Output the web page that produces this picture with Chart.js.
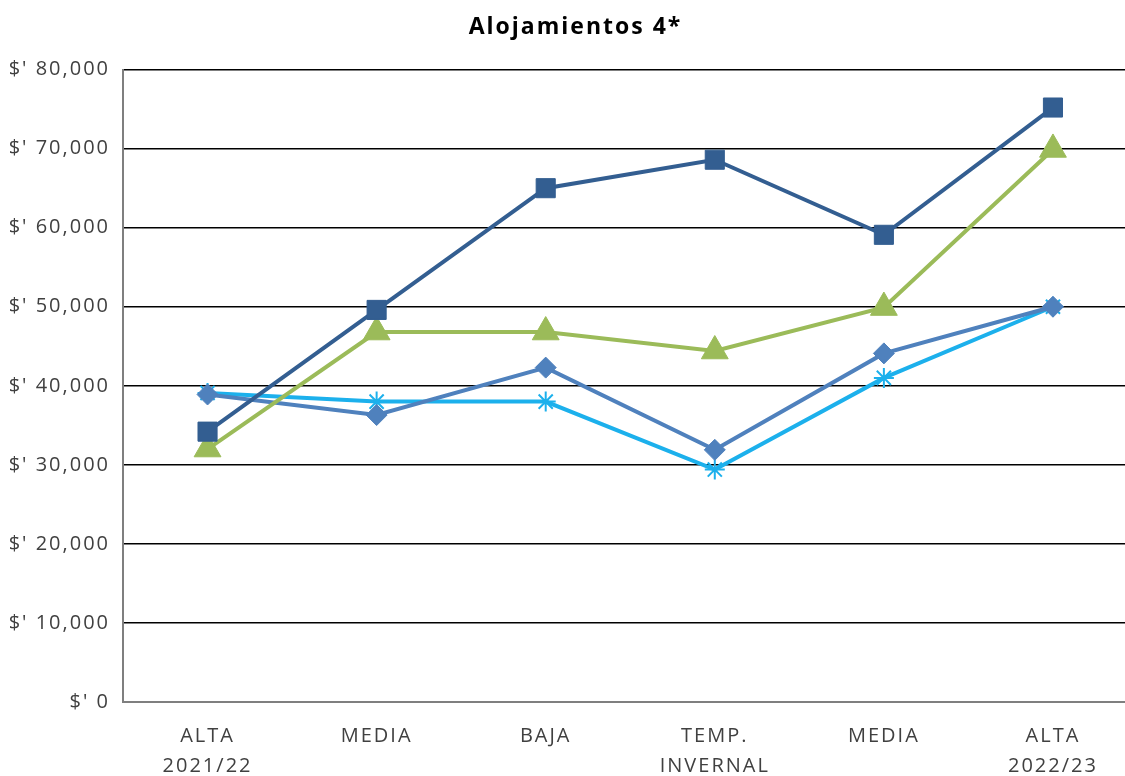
<!DOCTYPE html>
<html>
<head>
<meta charset="utf-8">
<script src="https://cdn.jsdelivr.net/npm/chart.js@4/dist/chart.umd.min.js"></script>
<style>
  html, body { margin: 0; padding: 0; background: #fff; overflow: hidden; }
  canvas { display: block; }
</style>
</head>
<body>
<canvas id="chart" width="1154" height="776"></canvas>
<script>
// categories along the x axis
const categories = [['ALTA', '2021/22'], 'MEDIA', 'BAJA', ['TEMP.', 'INVERNAL'], 'MEDIA', ['ALTA', '2022/23']];

// series values
const squareSeries = [34200, 49600, 65000, 68600, 59100, 75200];
const triangleSeries = [32000, 46800, 46800, 44400, 49900, 69900];
const diamondSeries = [38900, 36300, 42300, 31900, 44100, 50000];
const starSeries = [39100, 38000, 38000, 29400, 41000, 50000];

// y axis range
const yMin = 0;
const yMax = 80000;
const yStep = 10000;

const textColor = '#404040';

// canvas letter spacing gets reset on resize, so put it back before layout and draw
const spacingPlugin = {
    id: 'spacing',
    beforeUpdate(chart) { chart.ctx.letterSpacing = '2px'; },
    beforeDraw(chart) { chart.ctx.letterSpacing = '2px'; }
};

function lineSet(data, color, style, radius, border) {
    return {
        data: data,
        borderColor: color,
        backgroundColor: color,
        borderWidth: 4,
        pointStyle: style,
        pointRadius: radius,
        pointHoverRadius: radius,
        pointBorderWidth: border,
        pointBorderColor: color,
        pointBackgroundColor: color,
        tension: 0,
        fill: false
    };
}

new Chart(document.getElementById('chart'), {
    type: 'line',
    data: {
        labels: categories,
        datasets: [
            lineSet(squareSeries, '#335E91', 'rect', 13.5, 1),
            lineSet(triangleSeries, '#9BBB59', 'triangle', 15.5, 1),
            lineSet(diamondSeries, '#4F81BD', 'rectRot', 10.5, 1),
            lineSet(starSeries, '#1CB0EC', 'star', 10, 2)
        ]
    },
    options: {
        responsive: false,
        animation: false,
        layout: { padding: { left: 0, right: 3, top: 0, bottom: 0 } },
        plugins: {
            legend: { display: false },
            tooltip: { enabled: false },
            title: {
                display: true,
                text: 'Alojamientos 4*',
                color: '#000',
                font: { family: 'Open Sans', size: 23, weight: 'bold', lineHeight: 1.2 },
                padding: { top: 14, bottom: 28 }
            }
        },
        scales: {
            x: {
                offset: true,
                grid: { display: false, drawTicks: false },
                border: { display: true, color: '#7f7f7f', width: 2 },
                ticks: {
                    color: textColor,
                    font: { family: 'Open Sans', size: 20, lineHeight: 1.5 },
                    padding: 19,
                    maxRotation: 0,
                    autoSkip: false
                },
                afterFit(scale) { scale.height = 74; }
            },
            y: {
                min: yMin,
                max: yMax,
                grid: { color: '#000', lineWidth: 1.5, drawTicks: false },
                border: { display: true, color: '#7f7f7f', width: 2 },
                ticks: {
                    stepSize: yStep,
                    color: textColor,
                    padding: 13,
                    font: { family: 'Open Sans', size: 20 },
                    callback: v => "$' " + v.toLocaleString('en-US')
                },
                afterFit(scale) { scale.width = 123; }
            }
        }
    },
    plugins: [spacingPlugin]
});
</script>
</body>
</html>
